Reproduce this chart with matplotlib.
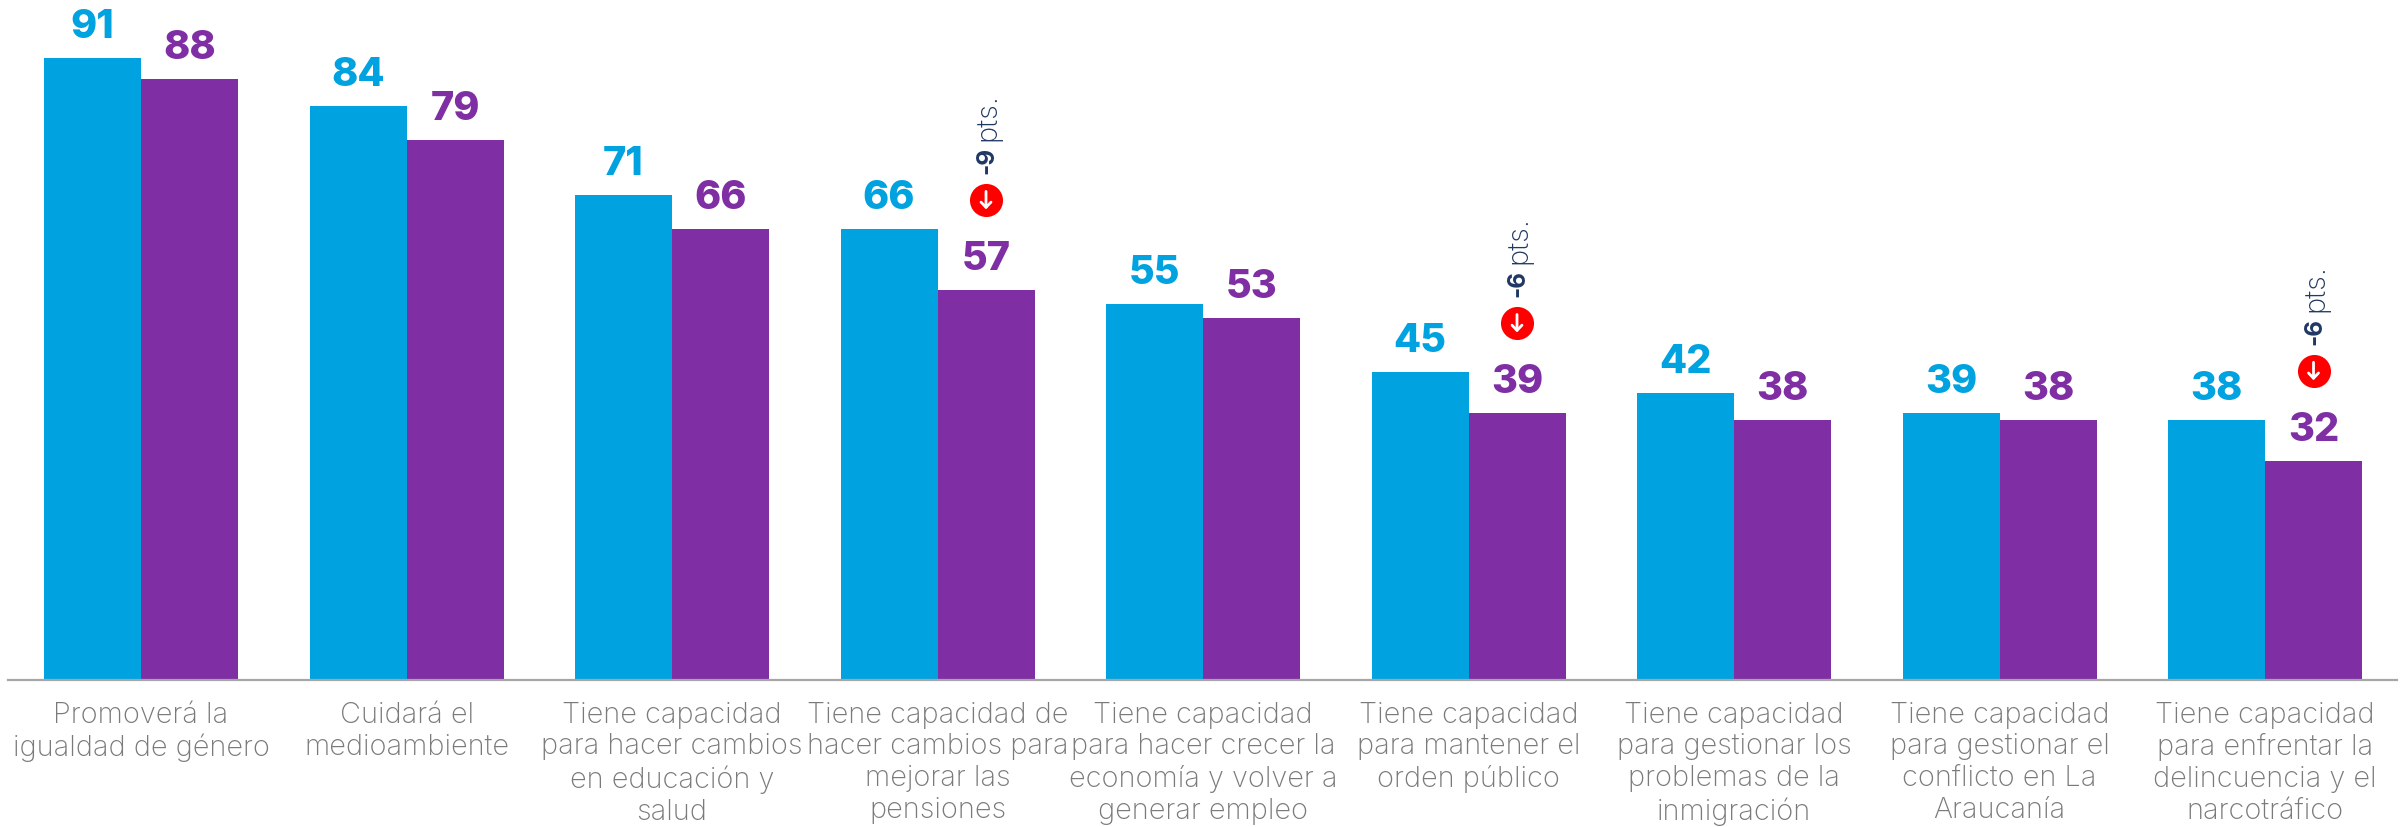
import matplotlib
matplotlib.use("Agg")
import matplotlib.pyplot as plt
from matplotlib.transforms import offset_copy

W, H = 2404, 827
DPI = 100

categories = [
    "Promoverá la\nigualdad de género",
    "Cuidará el\nmedioambiente",
    "Tiene capacidad\npara hacer cambios\nen educación y\nsalud",
    "Tiene capacidad de\nhacer cambios para\nmejorar las\npensiones",
    "Tiene capacidad\npara hacer crecer la\neconomía y volver a\ngenerar empleo",
    "Tiene capacidad\npara mantener el\norden público",
    "Tiene capacidad\npara gestionar los\nproblemas de la\ninmigración",
    "Tiene capacidad\npara gestionar el\nconflicto en La\nAraucanía",
    "Tiene capacidad\npara enfrentar la\ndelincuencia y el\nnarcotráfico",
]
series_a = [91, 84, 71, 66, 55, 45, 42, 39, 38]
series_b = [88, 79, 66, 57, 53, 39, 38, 38, 32]
change_idx = [3, 5, 8]
change_txt = ["-9", "-6", "-6"]

BLUE = "#00A3E0"
PURPLE = "#7F2FA3"
NAVY = "#1F3864"
GREY = "#7A7A7A"
AXIS = "#A6A6A6"
FONT = "Inter"

fig = plt.figure(figsize=(W / DPI, H / DPI), dpi=DPI, facecolor="white")
x0, x1, base = 8, 2397, 680
ax = fig.add_axes([x0 / W, (H - base) / H, (x1 - x0) / W, base / H])
period = 265.5
ax.set_xlim((x0 - 141) / period, (x1 - 141) / period)
ax.set_ylim(0, base / 6.835)

w = 97 / period
pos = list(range(len(categories)))
ax.bar([p - w / 2 for p in pos], series_a, width=w, color=BLUE, linewidth=0)
ax.bar([p + w / 2 for p in pos], series_b, width=w, color=PURPLE, linewidth=0)

for s in ("top", "left", "right"):
    ax.spines[s].set_visible(False)
ax.spines["bottom"].set_color(AXIS)
ax.spines["bottom"].set_linewidth(1.6)
ax.set_yticks([])
ax.set_xticks(pos)
ax.set_xticklabels(categories, fontsize=20.8, color=GREY, family=FONT, fontweight="light",
                   linespacing=1.225)
ax.tick_params(axis="x", length=0, pad=15.5)

for p, a, b in zip(pos, series_a, series_b):
    for xx, v, c in ((p - w / 2, a, BLUE), (p + w / 2, b, PURPLE)):
        ax.annotate(str(v), (xx, v), xytext=(0, 20), textcoords="offset pixels",
                    ha="center", va="baseline", fontsize=28.5, fontweight=800,
                    family=FONT, color=c)

badge = offset_copy(ax.transData, fig=fig, x=0, y=90, units="dots")
arrow = offset_copy(ax.transData, fig=fig, x=0, y=81, units="dots")
for i, t in zip(change_idx, change_txt):
    xx = i + w / 2
    v = series_b[i]
    ax.scatter([xx], [v], s=23.8 ** 2, color="#FF0000", linewidth=0, transform=badge,
               clip_on=False, zorder=4)
    ax.annotate("", xy=(xx, v), xycoords=arrow, xytext=(0, 18), textcoords="offset pixels",
                arrowprops=dict(arrowstyle="->,head_length=0.38,head_width=0.36", color="white",
                                lw=2.0, shrinkA=0, shrinkB=0), zorder=5)
    ax.annotate(t, (xx, v), xytext=(1, 116), textcoords="offset pixels", ha="center",
                va="bottom", rotation=90, fontsize=17.5, fontweight="bold", color=NAVY,
                family=FONT)
    ax.annotate("pts.", (xx, v), xytext=(2, 149), textcoords="offset pixels", ha="center",
                va="bottom", rotation=90, fontsize=21, fontweight="light", color=NAVY,
                family=FONT)

fig.savefig("out.png", dpi=DPI)
